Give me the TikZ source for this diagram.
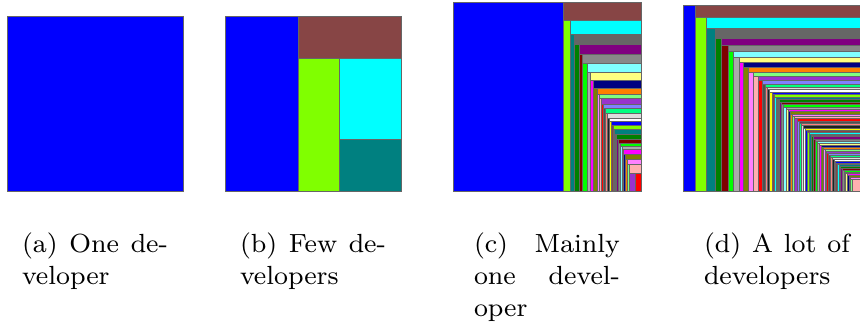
\documentclass[tikz,border=0pt]{standalone}
\definecolor{tc1}{HTML}{0000FF}
\definecolor{tc2}{HTML}{874545}
\definecolor{tc3}{HTML}{80FF00}
\definecolor{tc4}{HTML}{00FFFF}
\definecolor{tc5}{HTML}{008080}
\definecolor{tc6}{HTML}{666666}
\definecolor{tc7}{HTML}{008000}
\definecolor{tc8}{HTML}{800080}
\definecolor{tc9}{HTML}{800000}
\definecolor{tc10}{HTML}{888888}
\definecolor{tc11}{HTML}{00FF00}
\definecolor{tc12}{HTML}{80FFFF}
\definecolor{tc13}{HTML}{AAAAAA}
\definecolor{tc14}{HTML}{FFFF80}
\definecolor{tc15}{HTML}{FF00FF}
\definecolor{tc16}{HTML}{000080}
\definecolor{tc17}{HTML}{808000}
\definecolor{tc18}{HTML}{FF8000}
\definecolor{tc19}{HTML}{FF80FF}
\definecolor{tc20}{HTML}{80FF80}
\definecolor{tc21}{HTML}{FFB0B0}
\definecolor{tc22}{HTML}{9933CC}
\definecolor{tc23}{HTML}{FF0000}
\definecolor{tc24}{HTML}{8080FF}
\definecolor{tc25}{HTML}{505050}
\definecolor{tc26}{HTML}{00FF80}
\definecolor{tc27}{HTML}{FF8080}
\definecolor{tc28}{HTML}{DDDDDD}
\definecolor{tc29}{HTML}{202020}
\definecolor{tc30}{HTML}{FFFFFF}
\definecolor{tc31}{HTML}{FFFF00}
\tikzset{
  tmbox/.style={draw=black!60, line width=0.2pt},
  capline/.style={anchor=base west, inner sep=0pt, outer sep=0pt,
                  font=\fontsize{8.4}{10}\selectfont}
}
% strip #1 (index), size #2 : odd -> left strip, even -> top strip
\newcommand\tmstrip[2]{%
  \pgfmathtruncatemacro\tmci{mod(#1-1,31)+1}%
  \ifodd#1\relax
    \pgfmathsetmacro\tmnew{\tmx+#2}%
    \path[tmbox,fill=tc\tmci] (\tmx,\tmy) rectangle (\tmnew,\tmb);%
    \xdef\tmx{\tmnew}%
  \else
    \pgfmathsetmacro\tmnew{\tmy+#2}%
    \path[tmbox,fill=tc\tmci] (\tmx,\tmy) rectangle (\tmr,\tmnew);%
    \xdef\tmy{\tmnew}%
  \fi}
\newcommand\tmregion[4]{\xdef\tmx{#1}\xdef\tmy{#2}\xdef\tmr{#3}\xdef\tmb{#4}}
\newcommand\tmrun[1]{\foreach \s [count=\i] in {#1} {\tmstrip{\i}{\s}\xdef\tmlast{\i}}}
\newcommand\tmfinal{%
  \pgfmathtruncatemacro\tmn{\tmlast+1}%
  \pgfmathtruncatemacro\tmci{mod(\tmn-1,31)+1}%
  \path[tmbox,fill=tc\tmci] (\tmx,\tmy) rectangle (\tmr,\tmb);}
\newcommand\capw{46.7pt}
\begin{document}
\begin{tikzpicture}[x=0.32pt,y=-0.32pt]
\useasboundingbox (0,0) rectangle (860,323);
\clip (0,0) rectangle (860,323);
% (a)
\path[tmbox,fill=tc1] (7,16) rectangle (183,191);
% (b)
\tmregion{225}{16}{401}{191}
\tmrun{73,42,41,81}
\tmfinal
% (c)
\tmregion{453}{2.7}{641}{191.7}
\tmrun{110.7,18, 6.6,13.7, 4.4,9.6, 4.6,10.4, 3.4,9, 4.6,9, 2.7,7.6, 3.7,8.4, 3.3,5.6, 2.0,4.3, 2.3,5.5, 2.2,4.3, 2.0,5, 1.9,5.6, 1.9,2.7, 1.8,4, 1.8,4.3, 1.8,5, 1.8,5, 1.8,3.3, 1.8,3.4, 1.8,3.3, 1.8,5, 1.7,4.3, 1.7,5.7, 1.8,8.3, 6}
\tmfinal
% (d)
\tmregion{683}{5.3}{871}{191.7}
\tmrun{12,11.7, 11.3,11.3, 9,9.7, 6.4,7, 6.3,6.3, 5.7,5.7, 5.6,5.3, 4,5, 5.4,5, 4.6,4.3, 5.4,4, 3.3,3.7, 3}
\foreach \k in {1,...,44}{%
  \pgfmathsetmacro\tmh{2.6-0.9*(\k-1)/43}%
  \pgfmathsetmacro\tmw{2.4-0.84*(\k-1)/43}%
  \pgfmathtruncatemacro\tmia{24+2*\k}%
  \pgfmathtruncatemacro\tmib{25+2*\k}%
  \tmstrip{\tmia}{\tmh}\tmstrip{\tmib}{\tmw}%
  \xdef\tmlast{\tmib}}
\tmfinal
% captions
\node[capline] (capa1) at (22,252) {\makebox[\capw][s]{(a) One de-}};
\node[capline] (capa2) at (22,284) {veloper};
\node[capline] (capb1) at (240,252) {\makebox[\capw][s]{(b) Few de-}};
\node[capline] (capb2) at (240,284) {velopers};
\node[capline] (capc1) at (474,252) {\makebox[\capw][s]{(c) Mainly}};
\node[capline] (capc2) at (474,284) {\makebox[\capw][s]{one devel-}};
\node[capline] (capc3) at (474,316) {oper};
\node[capline] (capd1) at (704,252) {\makebox[\capw][s]{(d) A lot of}};
\node[capline] (capd2) at (704,284) {developers};
\end{tikzpicture}
\end{document}
